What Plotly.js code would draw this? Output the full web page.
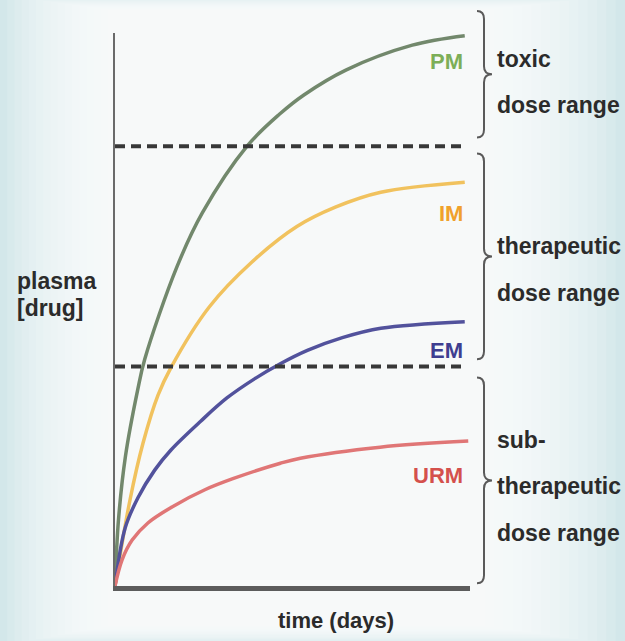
<!DOCTYPE html>
<html><head><meta charset="utf-8">
<script src="https://cdn.plot.ly/plotly-3.0.1.min.js"></script>
<style>html,body{margin:0;padding:0;background:#fff}#chart{width:625px;height:641px}</style>
</head><body><div id="chart"></div>
<script>
// ---- data (time in days, plasma [drug] in % of axis height) ----
const days_PM   = [0, 0.1, 0.3, 0.65, 0.85, 1.77, 2.5, 3.77, 4.7, 5.4, 6.6, 8.5, 10];
const plasma_PM = [0, 12, 23.5, 35.5, 41, 57.7, 67.5, 79.5, 85.3, 88.8, 93.3, 97.8, 99.5];
const days_IM   = [0, 0.43, 0.8, 1.23, 1.6, 2.7, 3.9, 5.2, 6.3, 7.6, 10];
const plasma_IM = [0, 15.6, 25.8, 34.5, 39.5, 50.5, 58.5, 65, 68.5, 71.2, 73];
const days_EM   = [0, 0.29, 0.66, 1.14, 1.6, 2.45, 3.2, 4.0, 4.7, 5.5, 6.5, 7.6, 10];
const plasma_EM = [0, 10.5, 16, 21, 24.6, 29.8, 34, 37.5, 40.1, 42.6, 44.9, 46.6, 47.8];
const days_URM   = [0, 0.2, 0.49, 0.94, 1.63, 2.57, 3.37, 4.73, 5.3, 7.58, 10.1];
const plasma_URM = [0, 4.7, 8.3, 11.4, 14.3, 17.4, 19.4, 22.2, 23.1, 25.1, 26.2];
const thresholds = [39.7, 79.5];            // lower / upper limit of therapeutic range
const curveLabels = ['PM', 'IM', 'EM', 'URM'];
const rangeLabels = [['toxic', 'dose range'], ['therapeutic', 'dose range'], ['sub-', 'therapeutic', 'dose range']];
const xTitle = 'time (days)';
const yTitle = ['plasma', '[drug]'];

// ---- styling / geometry ----
const W = 625, H = 641, L = 115, R = 470, T = 33, B = 586;
const XMAX = 10.15, YMAX = 100;
const FONT = "'Liberation Sans', Arial, sans-serif";
const TXT = '#2b2b2b';
const FS = 23;
const lineColors  = ['#72886c', '#f1c25e', '#52529c', '#e07676'];
const labelColors = ['#7cae58', '#f0a12c', '#3e3e90', '#d4504c'];
const labelOffsets = [4.6, 5.6, 5.2, 6.3];
const textShift = [8, 13, 6];
const px2xp = px => (px - L) / (R - L);
const py2yp = py => (B - py) / (B - T);
const v2py = v => B - v / YMAX * (B - T);

const series = [[days_PM, plasma_PM], [days_IM, plasma_IM], [days_EM, plasma_EM], [days_URM, plasma_URM]];
const traces = series.map((s, i) => ({
  x: s[0], y: s[1], type: 'scatter', mode: 'lines', name: curveLabels[i],
  line: {color: lineColors[i], width: 3.5, shape: 'spline', smoothing: 1},
  hoverinfo: 'skip', showlegend: false
}));

const shapes = [];
// background gradient (cyan edges, white centre)
shapes.push({type: 'rect', xref: 'paper', yref: 'paper', layer: 'below', line: {width: 0},
  x0: px2xp(-5), x1: px2xp(W + 5), y0: py2yp(H + 5), y1: py2yp(-5), fillcolor: '#cde4e7'});
const NG = 16;
for (let k = 0; k < NG; k++) {
  const f = k / (NG - 1);
  const xa = 0 + f * 108, xb = 625 - f * 140, ya = -5 + f * 15, yb = H + 5 - f * 20;
  shapes.push({type: 'rect', xref: 'paper', yref: 'paper', layer: 'below', line: {width: 0},
    x0: px2xp(xa), x1: px2xp(xb), y0: py2yp(yb), y1: py2yp(ya), fillcolor: 'rgba(255,255,255,0.13)'});
}
// threshold dashed lines
thresholds.forEach(t => shapes.push({type: 'line', xref: 'x', yref: 'y', x0: 0, x1: 10, y0: t, y1: t,
  line: {color: '#383838', width: 4, dash: '10px,6px'}}));

// braces
function brace(vTop, vBot) {
  const top = v2py(vTop), bot = v2py(vBot), mid = (top + bot) / 2;
  const x0 = 484, xl = 477, xt = 492, r = 8;
  const P = (x, y) => px2xp(x).toFixed(5) + ',' + py2yp(y).toFixed(5);
  return 'M' + P(xl, top) + ' Q' + P(x0, top) + ' ' + P(x0, top + r) +
    ' L' + P(x0, mid - r) + ' Q' + P(x0, mid) + ' ' + P(xt, mid) +
    ' Q' + P(x0, mid) + ' ' + P(x0, mid + r) +
    ' L' + P(x0, bot - r) + ' Q' + P(x0, bot) + ' ' + P(xl, bot);
}
const bounds = [[104, thresholds[1] + 1.6], [thresholds[1] - 1.3, thresholds[0] + 1.3], [thresholds[0] - 2, 0.5]];
bounds.forEach(b => shapes.push({type: 'path', xref: 'paper', yref: 'paper', path: brace(b[0], b[1]),
  line: {color: '#5a5a5a', width: 2}}));

const annotations = [];
// curve labels, right-aligned under each curve's end
series.forEach((s, i) => {
  const last = s[1][s[1].length - 1];
  annotations.push({xref: 'x', yref: 'y', x: 10, y: last - labelOffsets[i], text: curveLabels[i], showarrow: false,
    xanchor: 'right', yanchor: 'middle', font: {family: FONT, size: 22, color: labelColors[i], weight: 700}});
});
// range labels beside the braces
bounds.forEach((b, i) => {
  const mid = (v2py(b[0]) + v2py(b[1])) / 2 + textShift[i];
  const lines = rangeLabels[i], n = lines.length;
  lines.forEach((t, k) => {
    const py = mid + (k - (n - 1) / 2) * 46.5;
    annotations.push({xref: 'paper', yref: 'paper', x: px2xp(495), y: py2yp(py), text: t, showarrow: false,
      xanchor: 'left', yanchor: 'middle', font: {family: FONT, size: FS, color: TXT, weight: 700}});
  });
});
// axis titles
yTitle.forEach((t, k) => annotations.push({xref: 'paper', yref: 'paper', x: px2xp(15), y: py2yp(281 + k * 27),
  text: t, showarrow: false, xanchor: 'left', yanchor: 'middle', font: {family: FONT, size: FS, color: TXT, weight: 700}}));
annotations.push({xref: 'paper', yref: 'paper', x: px2xp(336), y: py2yp(621), text: xTitle, showarrow: false,
  xanchor: 'center', yanchor: 'middle', font: {family: FONT, size: 22, color: TXT, weight: 700}});

const layout = {
  width: W, height: H,
  margin: {l: L, r: W - R, t: T, b: H - B, pad: 0},
  paper_bgcolor: '#ffffff', plot_bgcolor: 'rgba(0,0,0,0)',
  xaxis: {range: [0, XMAX], showline: true, linecolor: '#5c5c5c', linewidth: 5, showgrid: false,
    zeroline: false, showticklabels: false, ticks: '', fixedrange: true},
  yaxis: {range: [0, YMAX], showline: true, linecolor: '#6a6a6a', linewidth: 2.5, showgrid: false,
    zeroline: false, showticklabels: false, ticks: '', fixedrange: true},
  shapes: shapes, annotations: annotations, showlegend: false
};
Plotly.newPlot('chart', traces, layout, {staticPlot: true, displayModeBar: false});
</script></body></html>
